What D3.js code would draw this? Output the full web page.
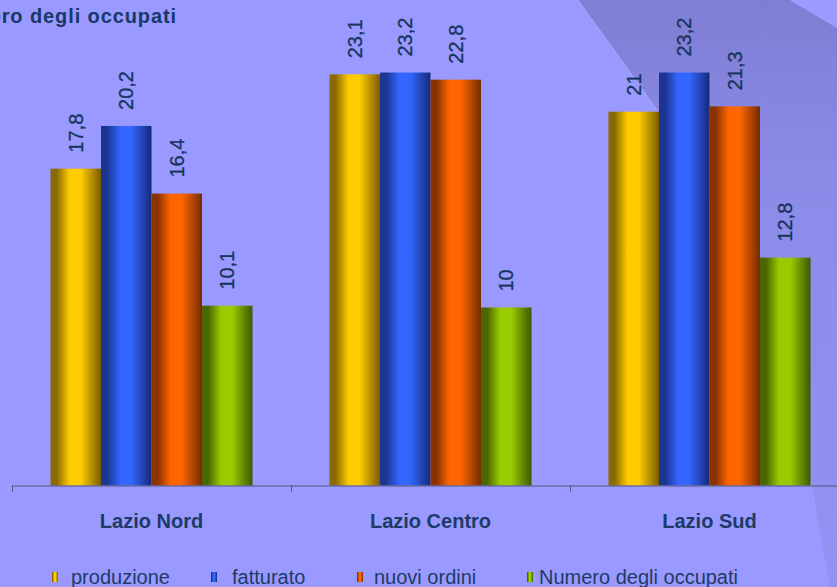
<!DOCTYPE html>
<html>
<head>
<meta charset="utf-8">
<script src="https://cdn.jsdelivr.net/npm/d3@7/dist/d3.min.js"></script>
<style>
  html, body { margin: 0; padding: 0; background: #9999ff; }
  svg { display: block; }
  text { font-family: "Liberation Sans", Arial, sans-serif; }
</style>
</head>
<body>
<svg id="chart" width="837" height="587"></svg>
<script>
// ---- data ----
const categories = ["Lazio Nord", "Lazio Centro", "Lazio Sud"];
const seriesNames = ["produzione", "fatturato", "nuovi ordini", "Numero degli occupati"];
const produzione = [17.8, 23.1, 21];
const fatturato = [20.2, 23.2, 23.2];
const nuoviOrdini = [16.4, 22.8, 21.3];
const occupati = [10.1, 10, 12.8];
const titleText = "Numero degli occupati";

const seriesValues = [produzione, fatturato, nuoviOrdini, occupati];
const palette = [
  { dark: "#8a6a00", mid: "#ffcc00", edge: "#7a5c00" },
  { dark: "#1c3590", mid: "#3366ff", edge: "#16297a" },
  { dark: "#8a3200", mid: "#ff6600", edge: "#742a00" },
  { dark: "#4a6600", mid: "#99cc00", edge: "#3f5700" }
];

const W = 837, H = 587;
const svg = d3.select("#chart");
const defs = svg.append("defs");

// background
svg.append("rect").attr("width", W).attr("height", H).attr("fill", "#9999ff");

// darker page-curl overlay
const ov = defs.append("linearGradient").attr("id", "ovg")
  .attr("x1", 0).attr("y1", 0).attr("x2", 0).attr("y2", 1);
ov.append("stop").attr("offset", 0).attr("stop-color", "#7e7ed4");
ov.append("stop").attr("offset", 0.3).attr("stop-color", "#8b8be8");
ov.append("stop").attr("offset", 1).attr("stop-color", "#9292f3");
svg.append("path")
  .attr("d", "M578,0 L657,110 Q760,260 812,485 L830,587 L837,587 L837,28 L790,0 Z")
  .attr("fill", "url(#ovg)");
svg.append("path")
  .attr("d", "M578,0 L657,110")
  .attr("stroke", "#b4b4ff").attr("stroke-width", 1).attr("fill", "none").attr("opacity", 0.7);
svg.append("path")
  .attr("d", "M790,0 L837,28 L837,0 Z").attr("fill", "#9c9cff");

// bar gradients (cylinder shading)
palette.forEach((p, i) => {
  const g = defs.append("linearGradient").attr("id", "bg" + i)
    .attr("x1", 0).attr("y1", 0).attr("x2", 1).attr("y2", 0);
  g.append("stop").attr("offset", 0).attr("stop-color", p.dark);
  g.append("stop").attr("offset", 0.12).attr("stop-color", p.dark);
  g.append("stop").attr("offset", 0.38).attr("stop-color", p.mid);
  g.append("stop").attr("offset", 0.6).attr("stop-color", p.mid);
  g.append("stop").attr("offset", 1).attr("stop-color", p.edge);
});

// scales
const x0 = d3.scaleBand().domain(categories).range([12, 849]).paddingInner(0).paddingOuter(0);
const groupW = 202;
const x1 = d3.scaleBand().domain(seriesNames).range([0, groupW]);
const offset = (x0.bandwidth() - groupW) / 2;
const y = d3.scaleLinear().domain([0, 25]).range([485.5, 40.5]);

const locale = d3.formatLocale({ decimal: ",", thousands: ".", grouping: [3], currency: ["€", ""] });
const fmt = locale.format(".3~");

// bars
const rows = [];
categories.forEach((c, ci) => {
  seriesNames.forEach((s, si) => rows.push({ cat: c, s, si, v: seriesValues[si][ci] }));
});

svg.append("g").selectAll("rect").data(rows).join("rect")
  .attr("x", d => x0(d.cat) + offset + x1(d.s))
  .attr("y", d => y(d.v))
  .attr("width", x1.bandwidth())
  .attr("height", d => y(0) - y(d.v))
  .attr("fill", d => "url(#bg" + d.si + ")");

// value labels (rotated)
svg.append("g").selectAll("text").data(rows).join("text")
  .attr("transform", d => `translate(${x0(d.cat) + offset + x1(d.s) + x1.bandwidth() / 2},${y(d.v) - 16}) rotate(-90)`)
  .attr("dy", "0.36em")
  .attr("text-anchor", "start")
  .attr("font-size", 20)
  .attr("fill", "#17345c")
  .attr("stroke", "#17345c")
  .attr("stroke-width", 0.3)
  .text(d => fmt(d.v));

// axis
const tickScale = d3.scaleLinear().domain([0, categories.length]).range([12, 849]);
const axis = svg.append("g").attr("transform", `translate(0,${y(0)})`)
  .call(d3.axisBottom(tickScale).tickValues(d3.range(categories.length + 1)).tickFormat("").tickSizeOuter(0).tickSize(6));
axis.select(".domain").attr("stroke", "#555577");
axis.selectAll(".tick line").attr("stroke", "#555577");

// category labels
svg.append("g").selectAll("text").data(categories).join("text")
  .attr("x", d => x0(d) + x0.bandwidth() / 2)
  .attr("y", 528)
  .attr("text-anchor", "middle")
  .attr("font-size", 20)
  .attr("font-weight", "bold")
  .attr("fill", "#1d3b66")
  .text(d => d);

// title (partly cut off at left, as in the reference)
svg.append("text")
  .attr("x", 177).attr("y", 23)
  .attr("text-anchor", "end")
  .attr("font-size", 20)
  .attr("font-weight", "bold")
  .attr("letter-spacing", 0.9)
  .attr("fill", "#183868")
  .text(titleText);

// legend
const legendMarkerX = [52, 211, 357, 527];
const legendTextX = [71, 232, 374, 539];
const lg = svg.append("g");
seriesNames.forEach((s, i) => {
  lg.append("rect").attr("x", legendMarkerX[i]).attr("y", 572)
    .attr("width", 6).attr("height", 10).attr("fill", "url(#bg" + i + ")");
  lg.append("text").attr("x", legendTextX[i]).attr("y", 584)
    .attr("font-size", 20).attr("fill", "#1d3b66").text(s);
});
</script>
</body>
</html>
